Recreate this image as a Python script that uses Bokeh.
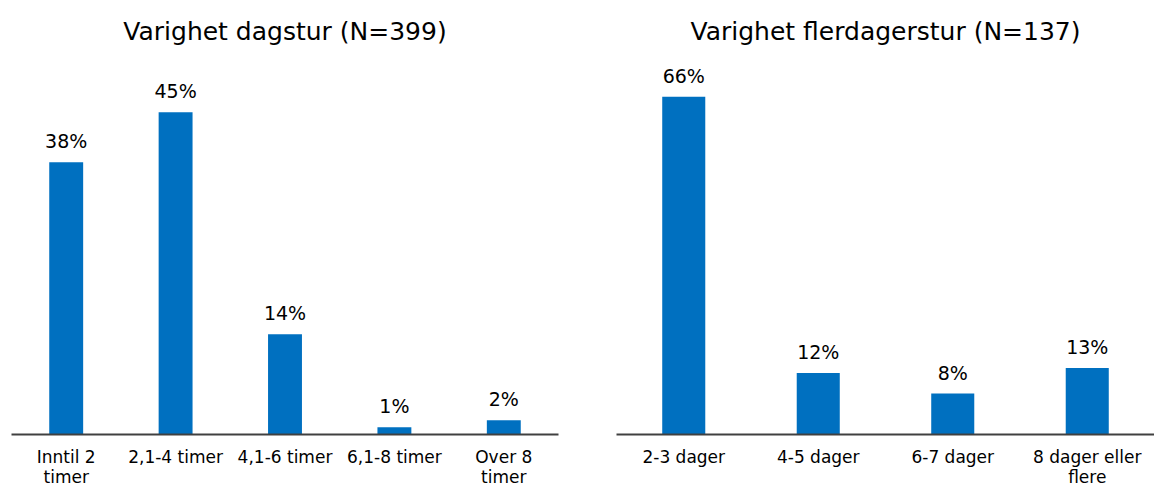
from bokeh.plotting import figure
from bokeh.models import ColumnDataSource, LabelSet, Title
from bokeh.core.properties import value
from bokeh.layouts import row
from bokeh.embed import file_html
from bokeh.resources import INLINE

# Data
day_title = "Varighet dagstur (N=399)"
day_cats = ["Inntil 2\ntimer", "2,1-4 timer", "4,1-6 timer", "6,1-8 timer", "Over 8\ntimer"]
day_vals = [38, 45, 14, 1, 2]

multi_title = "Varighet flerdagerstur (N=137)"
multi_cats = ["2-3 dager", "4-5 dager", "6-7 dager", "8 dager eller\nflere"]
multi_vals = [66, 12, 8, 13]

FONT = "DejaVu Sans"
BAR = "#0070C0"


def make(title, cats, vals, width, ymax, bl, br, bar_w):
    src = ColumnDataSource(dict(cat=cats, val=vals, lab=[f"{v}%" for v in vals]))
    p = figure(x_range=cats, y_range=(0, ymax), width=width, height=489,
               output_backend="svg", toolbar_location=None,
               min_border_left=bl, min_border_right=br, min_border_top=58,
               min_border_bottom=0)
    p.title = Title(text=title, align="center", text_font=FONT,
                    text_font_size="25px", text_font_style="normal",
                    text_color="black", standoff=25)
    p.vbar(x="cat", top="val", width=bar_w, source=src, color=BAR, line_color=None)
    p.add_layout(LabelSet(x="cat", y="val", text="lab", source=src,
                          text_align="center", text_baseline="bottom",
                          y_offset=10, text_font=value(FONT), text_font_size="19px",
                          text_color="black"))
    p.yaxis.visible = False
    p.xgrid.visible = False
    p.ygrid.visible = False
    p.outline_line_color = None
    p.xaxis.axis_line_color = "#404040"
    p.xaxis.axis_line_width = 2
    p.xaxis.major_tick_line_color = None
    p.xaxis.minor_tick_line_color = None
    p.xaxis.major_label_standoff = 6
    p.xaxis.major_label_text_line_height = 1.0
    p.xaxis.major_label_text_font = FONT
    p.xaxis.major_label_text_font_size = "17px"
    p.xaxis.major_label_text_color = "black"
    p.x_range.range_padding = 0
    return p


p1 = make(day_title, day_cats, day_vals, 600, 52.5, 11, 42, 0.31)
p2 = make(multi_title, multi_cats, multi_vals, 554, 73.5, 16, 0, 0.32)

layout = row(p1, p2)
open("out.html", "w").write(file_html(layout, INLINE))
